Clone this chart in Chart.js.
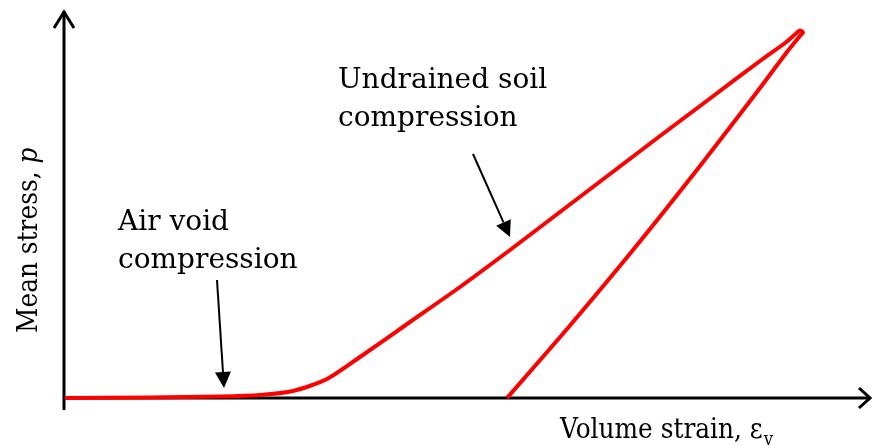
<!DOCTYPE html>
<html><head><meta charset="utf-8">
<script src="https://cdn.jsdelivr.net/npm/chart.js@4/dist/chart.umd.min.js"></script>
<style>html,body{margin:0;padding:0;background:#fff;overflow:hidden}canvas{display:block}</style>
</head><body>
<canvas id="c" width="872" height="446"></canvas>
<script>
// Volume strain (x) and mean stress (y) along the loading–unloading path (arbitrary units)
const strain = [0, 85, 155, 195, 228, 262, 295, 345, 395, 445, 495, 545, 595, 645, 695, 720, 731, 735, 738, 735, 722, 692, 635, 568, 502, 442];
const stress = [0, 0.5, 1.5, 3, 7, 19, 41, 76, 111, 148, 186, 224, 262, 299.5, 337, 355, 364.5, 367.5, 365.5, 362, 346, 306, 232, 148, 69, 0];
const xTitle = ["Volume strain, ", "\u03b5", "v"];
const yTitle = ["Mean stress, ", "p"];
const notes = [
  {lines: ["Air void", "compression"], at: [53, 168], from: [152, 118], to: [159, 10]},
  {lines: ["Undrained soil", "compression"], at: [273, 310], from: [408, 244], to: [445, 161]}
];

const FONT = '"DejaVu Serif", "Liberation Serif", serif';

const deco = {
  id: 'deco',
  beforeDatasetsDraw(chart) {
    const {ctx, chartArea: a} = chart;
    ctx.save();
    ctx.strokeStyle = '#000'; ctx.lineWidth = 3; ctx.lineCap = 'butt'; ctx.lineJoin = 'miter';
    const ax = a.left - 1;
    ctx.beginPath(); ctx.moveTo(ax, a.top - 1); ctx.lineTo(ax, a.bottom + 12); ctx.stroke();
    ctx.beginPath(); ctx.moveTo(ax - 10, a.top + 16); ctx.lineTo(ax, a.top); ctx.lineTo(ax + 10, a.top + 16); ctx.stroke();
    ctx.beginPath(); ctx.moveTo(ax, a.bottom); ctx.lineTo(a.right, a.bottom); ctx.stroke();
    ctx.beginPath(); ctx.moveTo(a.right - 11, a.bottom - 10); ctx.lineTo(a.right, a.bottom); ctx.lineTo(a.right - 11, a.bottom + 10); ctx.stroke();
    ctx.restore();
  },
  afterDatasetsDraw(chart) {
    const {ctx, chartArea: a, scales: {x, y}} = chart;
    ctx.save();
    ctx.fillStyle = '#000'; ctx.strokeStyle = '#000';
    ctx.font = '28px ' + FONT; ctx.textBaseline = 'alphabetic'; ctx.textAlign = 'left';
    for (const n of notes) {
      const tx = x.getPixelForValue(n.at[0]), ty = y.getPixelForValue(n.at[1]);
      n.lines.forEach((l, i) => ctx.fillText(l, tx, ty + i * 38));
      const x1 = x.getPixelForValue(n.from[0]), y1 = y.getPixelForValue(n.from[1]);
      const x2 = x.getPixelForValue(n.to[0]), y2 = y.getPixelForValue(n.to[1]);
      const ang = Math.atan2(y2 - y1, x2 - x1), hl = 16, hw = 8;
      const c = Math.cos(ang), s = Math.sin(ang);
      ctx.lineWidth = 2;
      ctx.beginPath(); ctx.moveTo(x1, y1); ctx.lineTo(x2 - hl * c, y2 - hl * s); ctx.stroke();
      ctx.beginPath(); ctx.moveTo(x2, y2);
      ctx.lineTo(x2 - hl * c + hw * s, y2 - hl * s - hw * c);
      ctx.lineTo(x2 - hl * c - hw * s, y2 - hl * s + hw * c);
      ctx.closePath(); ctx.fill();
    }
    const sx = 0.92;
    // x title
    ctx.save();
    ctx.translate(560, a.bottom + 40); ctx.scale(sx, 1);
    ctx.font = '27px ' + FONT;
    let px = 0;
    ctx.fillText(xTitle[0], px, 0); px += ctx.measureText(xTitle[0]).width;
    ctx.fillText(xTitle[1], px, 0); px += ctx.measureText(xTitle[1]).width;
    ctx.font = '18px ' + FONT; ctx.fillText(xTitle[2], px + 1, 7);
    ctx.restore();
    // y title
    ctx.save();
    ctx.translate(37, 333); ctx.rotate(-Math.PI / 2); ctx.scale(sx, 1);
    ctx.font = '27px ' + FONT;
    ctx.fillText(yTitle[0], 0, 0);
    const w = ctx.measureText(yTitle[0]).width;
    ctx.font = 'italic 27px ' + FONT;
    ctx.fillText(yTitle[1], w, 0);
    ctx.restore();
    ctx.restore();
  }
};

new Chart(document.getElementById('c'), {
  type: 'line',
  data: {
    datasets: [{
      data: strain.map((v, i) => ({x: v, y: stress[i]})),
      borderColor: '#ff0000', borderWidth: 4, pointRadius: 0, tension: 0.25,
      fill: false, clip: false, borderCapStyle: 'butt', borderJoinStyle: 'round'
    }]
  },
  options: {
    responsive: false, animation: false,
    layout: {padding: {left: 65, top: 12, right: 2, bottom: 48}},
    plugins: {legend: {display: false}, tooltip: {enabled: false}},
    scales: {
      x: {type: 'linear', min: 0, max: 805, display: false},
      y: {type: 'linear', min: 0, max: 386, display: false}
    }
  },
  plugins: [deco]
});
</script>
</body></html>
